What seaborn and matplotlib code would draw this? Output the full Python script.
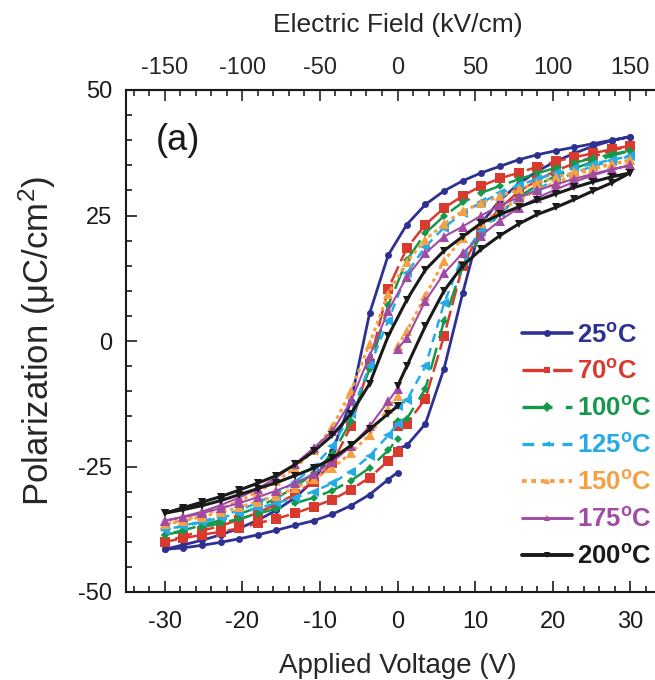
import matplotlib
matplotlib.use("Agg")
import matplotlib.pyplot as plt
from matplotlib.lines import Line2D
from matplotlib.ticker import MultipleLocator
import pandas as pd
import seaborn as sns

sns.set_theme(style="ticks")
plt.rcParams["font.family"] = ["Liberation Sans", "DejaVu Sans"]
plt.rcParams["mathtext.fontset"] = "custom"
plt.rcParams["mathtext.rm"] = "Liberation Sans"
plt.rcParams["mathtext.it"] = "Liberation Sans:italic"
plt.rcParams["mathtext.bf"] = "Liberation Sans:bold"

# ---------------- data ----------------
voltage_grid = [-30, -27.6, -25.2, -22.8, -20.4, -18, -15.6, -13.2, -10.8, -8.4, -6, -3.6, -1.2,
                1.2, 3.6, 6, 8.4, 10.8, 13.2, 15.6, 18, 20.4, 22.8, 25.2, 27.6, 30]

temperatures = ["25", "70", "100", "125", "150", "175", "200"]

# descending branch (listed from -30 V to +30 V)
upper_25 = [-41.5, -40.6, -39.7, -38.6, -37.3, -35.7, -33.7, -31.2, -27.8, -22, -12, 5.5, 17.1,
            23.2, 27.2, 29.9, 31.9, 33.5, 34.8, 36.1, 37.1, 37.9, 38.6, 39.3, 40.0, 40.7]
upper_70 = [-40, -38.9, -37.8, -36.8, -35.6, -34.2, -32.5, -30.5, -28, -24.3, -17, -4.5, 10.4,
            18.5, 23.2, 26.5, 28.9, 30.9, 32.4, 33.5, 34.7, 35.8, 36.6, 37.4, 38.2, 38.9]
upper_100 = [-38.6, -37.7, -36.7, -35.7, -34.5, -33.1, -31.3, -29.1, -26.3, -22.5, -16, -5.5, 7.1,
             16.1, 21.5, 24.9, 27.6, 29.5, 30.9, 32.2, 33.4, 34.5, 35.5, 36.4, 37.2, 37.9]
upper_125 = [-37.6, -36.8, -35.9, -34.9, -33.7, -32.2, -30.4, -28.1, -25, -21, -14.5, -5, 4,
             13.5, 18.8, 22.6, 25.5, 27.6, 29.4, 31, 32.3, 33.4, 34.4, 35.3, 36.1, 36.8]
upper_150 = [-36.5, -35.7, -34.7, -33.4, -31.9, -30, -27.9, -25.3, -21.8, -17.2, -10, -0.5, 9.4,
             15.8, 20.2, 23.3, 25.9, 27.5, 28.8, 30.2, 31.5, 32.6, 33.6, 34.5, 35.3, 36]
upper_175 = [-35.8, -35, -34, -32.7, -31.2, -29.4, -27.2, -24.5, -21.3, -18, -12, -3, 6,
             12.8, 17.5, 20.8, 22.8, 25, 27, 28.6, 30, 31.2, 32.3, 33.3, 34.2, 35]
upper_200 = [-34.3, -33.2, -32.1, -31, -29.7, -28.3, -26.8, -24.6, -22, -18.8, -14.5, -8.5, 1,
             8.2, 14.2, 18, 20.8, 23.5, 25.2, 26.7, 28, 29.3, 30.6, 31.7, 32.7, 33.5]

# ascending branch (from -30 V to +30 V): negative half = final return, positive half = initial sweep
lower_25 = [-41.5, -41.2, -40.7, -40.1, -39.4, -38.6, -37.7, -36.7, -35.8, -34.5, -32.8, -30.6, -27.6,
            -20.8, -16.5, -5.5, 9.5, 23.5, 28, 31.3, 33.8, 35.8, 37.4, 38.8, 39.9, 40.7]
lower_70 = [-40, -39.3, -38.6, -38, -37.3, -36.3, -35.4, -34.3, -33, -31.6, -29.6, -27.2, -23.9,
            -16.5, -11.5, 1.0, 15, 22, 26.5, 29.7, 32, 33.9, 35.4, 36.7, 37.9, 38.9]
lower_100 = [-38.6, -37.9, -37.1, -36.3, -35.4, -34.4, -33.4, -32.3, -31.2, -29.8, -27.8, -25.3, -21.8,
             -15.5, -9.5, 4, 15, 21, 25.5, 28.7, 31, 32.9, 34.4, 35.7, 36.9, 37.9]
lower_125 = [-37.6, -36.9, -36.1, -35.2, -34.3, -33.3, -32.3, -31.2, -30, -28.3, -26, -22.9, -18.8,
             -11.8, -5, 7.5, 17, 22, 25.5, 28.2, 30.3, 32, 33.5, 34.8, 35.9, 36.8]
lower_150 = [-36.5, -35.8, -35, -34.1, -33.1, -32, -30.8, -29.3, -27.5, -25.3, -22.3, -18.7, -13.5,
             2, 9, 16, 20.5, 23.5, 26, 28.2, 30, 31.6, 33, 34.2, 35.2, 36]
lower_175 = [-35.8, -35.1, -34.3, -33.3, -32.3, -31.1, -29.8, -28.3, -26.5, -24.1, -21, -17, -12,
             0.5, 8, 13.5, 17.5, 21, 24, 26.5, 28.5, 30.2, 31.7, 33, 34.1, 35]
lower_200 = [-34.3, -33.6, -32.8, -31.8, -30.6, -29.4, -28.2, -26.8, -25.3, -23.4, -20.8, -17.6, -14.5,
             -5, 3, 10, 15, 18.3, 21, 23.3, 25.2, 26.6, 28.2, 29.9, 31.5, 33.5]

# polarization at 0 V at the start of the sweep and at its end
start_p = [-21.5, -17, -16, -13, -1, -1.5, -9]
end_p = [-26.2, -22.2, -19.5, -16.5, -11, -9.5, -13]

uppers = [upper_25, upper_70, upper_100, upper_125, upper_150, upper_175, upper_200]
lowers = [lower_25, lower_70, lower_100, lower_125, lower_150, lower_175, lower_200]

x_ticks = [-30, -20, -10, 0, 10, 20, 30]
top_ticks = [-150, -100, -50, 0, 50, 100, 150]
y_ticks = [-50, -25, 0, 25, 50]

# ---------------- styles ----------------
colors = ["#2E3192", "#DA3A2E", "#12994A", "#25ACE6", "#F6A044", "#A34BA4", "#1A1A1A"]
dashes = [None, (7, 2.2), (9, 4), (3.5, 2.5), (1.2, 1.2), None, None]
widths = [2.0, 1.8, 1.8, 1.8, 2.2, 1.5, 2.2]
markers = ["o", "s", "D", "<", "^", "^", "v"]
msizes = [5, 7, 4.5, 6.5, 7, 6.5, 6]

fig = plt.figure(figsize=(6.55, 6.8), dpi=100)
ax = fig.add_axes([126 / 655, (680 - 592) / 680, (669 - 126) / 655, (592 - 90) / 680])

n = 13
for i, t in enumerate(temperatures):
    up, lo = uppers[i], lowers[i]
    vs = [0] + voltage_grid[n:] + voltage_grid[::-1] + voltage_grid[:n] + [0]
    ps = [start_p[i]] + lo[n:] + up[::-1] + lo[:n] + [end_p[i]]
    df = pd.DataFrame({"V": vs, "P": ps})
    sns.lineplot(data=df, x="V", y="P", sort=False, estimator=None, ax=ax,
                 color=colors[i], linewidth=widths[i], marker=markers[i],
                 markersize=msizes[i], markeredgewidth=0)
    ln = ax.lines[-1]
    if dashes[i] is not None:
        ln.set_dashes(dashes[i])

ax.set_xlim(-35, 35)
ax.set_ylim(-50, 50)
ax.set_xticks(x_ticks)
ax.set_yticks(y_ticks)
ax.xaxis.set_minor_locator(MultipleLocator(2))
ax.yaxis.set_minor_locator(MultipleLocator(5))
ax.set_xticklabels([str(v) for v in x_ticks])
ax.set_yticklabels([str(v) for v in y_ticks])
ax.tick_params(which="both", direction="in", width=1.2, colors="#1a1a1a",
               labelsize=17, top=False, right=False)
ax.tick_params(which="major", length=8)
ax.tick_params(which="minor", length=4.5)
ax.tick_params(axis="x", pad=14)
ax.tick_params(axis="y", pad=10)
for s in ax.spines.values():
    s.set_linewidth(1.5)
    s.set_color("#1a1a1a")

ax.set_xlabel("Applied Voltage (V)", fontsize=20, labelpad=14)
ax.set_ylabel("Polarization (μC/cm$^2$)", fontsize=25)
ax.yaxis.set_label_coords(-0.125, 0.5)

sec = ax.secondary_xaxis("top", functions=(lambda v: v * 5, lambda e: e / 5))
sec.set_xticks(top_ticks)
sec.set_xticklabels([str(v) for v in top_ticks])
sec.xaxis.set_minor_locator(MultipleLocator(10))
sec.tick_params(which="both", direction="in", width=1.2, labelsize=17, pad=8)
sec.tick_params(which="major", length=8)
sec.tick_params(which="minor", length=4.5)
sec.spines["top"].set_linewidth(1.5)
sec.set_xlabel("Electric Field (kV/cm)", fontsize=19, labelpad=18)

ax.text(0.095, 0.9, "(a)", transform=ax.transAxes, fontsize=26,
        ha="center", va="center", color="#1a1a1a")

handles = [Line2D([], [], color=colors[i], lw=widths[i] + 0.6,
                  dashes=dashes[i] if dashes[i] is not None else (None, None),
                  marker=markers[i], markersize=5, markeredgewidth=0)
           for i in range(len(temperatures))]
labels = [r"$\mathbf{" + t + r"^{o}C}$" for t in temperatures]
leg = ax.legend(handles, labels, loc="upper left", bbox_to_anchor=(0.729, 0.535),
                frameon=False, handlelength=1.95, handletextpad=0.2,
                labelspacing=0.5, prop={"size": 18.5, "weight": "bold"},
                borderaxespad=0, borderpad=0)
for txt, c in zip(leg.get_texts(), colors):
    txt.set_color(c)

fig.savefig("out.png", dpi=100)
